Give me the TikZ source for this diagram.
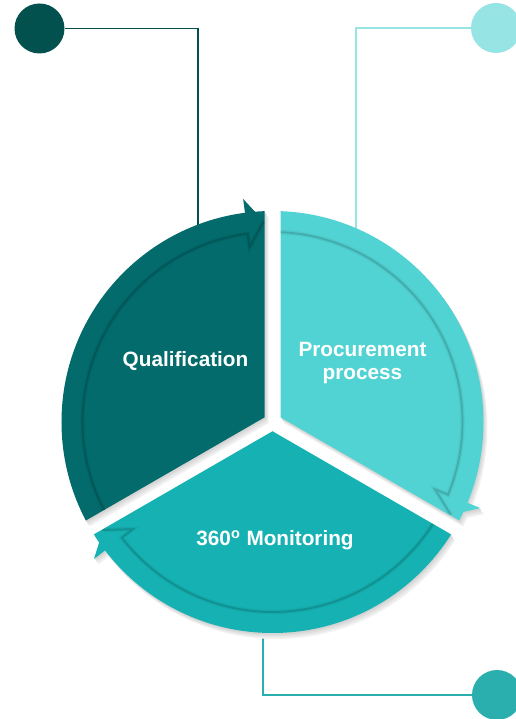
\documentclass[tikz,border=0pt]{standalone}
\usepackage{fontspec}
\setmainfont{Liberation Sans}
\usepackage{xcolor}
\definecolor{qualcol}{HTML}{036B6C}
\definecolor{proccol}{HTML}{52D3D3}
\definecolor{moncol}{HTML}{16B2B3}
\definecolor{qualdot}{HTML}{03514F}
\definecolor{procdot}{HTML}{96E4E4}
\definecolor{mondot}{HTML}{2BAEAE}

% radii of the wheel and of the inner edge of the arrow band, half gap
\newcommand{\Rout}{211}
\newcommand{\Rin}{190}
\newcommand{\gp}{9.24}

% one third of the wheel with its arrow head, #1 = middle angle
\newcommand{\pieceshape}[2]{%
  \clip (#1:\gp) -- +(#1-60:600) -- +(#1:600) -- +(#1+60:600) -- cycle;
  \fill[#2] (0,0) circle (\Rout);
  \fill[#2] (#1-57.5:201) -- (#1-52.5:225) -- (#1-52.5:176) -- cycle;}

\begin{document}
\begin{tikzpicture}[x=0.02cm, y=0.02cm,
  link/.style={line width=1.1pt},
  dot/.style={circle, minimum size=1cm, inner sep=0pt},
  bandshade/.style={black, opacity=#1},
  txt/.style={text=white, font=\bfseries\fontsize{11.8}{12.6}\selectfont, align=center}]
\useasboundingbox (-272.5,-297) rectangle (242.5,422);

% dots and their links
\node[dot, fill=qualdot] (qdot) at (-233,393.5) {};
\node[dot, fill=procdot] (pdot) at (223.5,394) {};
\node[dot, fill=mondot] (mdot) at (224.5,-273) {};
\coordinate (qend) at (-74.5,180);
\coordinate (pend) at (83.5,180);
\coordinate (mend) at (-9.5,-180);
\draw[link, qualdot] (qdot) -| (qend);
\draw[link, procdot] (pdot) -| (pend);
\draw[link, mondot] (mend) |- (mdot);

% soft shadow under the three pieces
\foreach \dx/\dy/\c in {4/-6/5, 3/-4.5/9, 2/-3/13, 1/-1.5/17} {
  \begin{scope}[shift={(\dx,\dy)}]
    \foreach \m in {150,30,270} {
      \begin{scope}
        \pieceshape{\m}{black!\c}
      \end{scope}
    }
  \end{scope}
}

% the three pieces, band edge shaded twice for a softer look
\foreach \m/\col in {150/qualcol, 30/proccol, 270/moncol} {
  \begin{scope}
    \pieceshape{\m}{\col}
    \foreach \w/\o in {2.6pt/.05, 1pt/.14}
      \draw[bandshade=\o, line width=\w] (\m+60:\Rin) arc[start angle=\m+60, end angle=\m-52.5, radius=\Rin]
        -- (\m-52.5:176) -- (\m-57.5:201);
  \end{scope}
}

\node[txt, anchor=base] (qual) at (-87,55.5) {Qualification};
\node[txt] (proc) at (90,59) {Procurement\\process};
\node[txt, anchor=base] (mon) at (2.5,-123.7) {360\textsuperscript{o} Monitoring};
\end{tikzpicture}
\end{document}
